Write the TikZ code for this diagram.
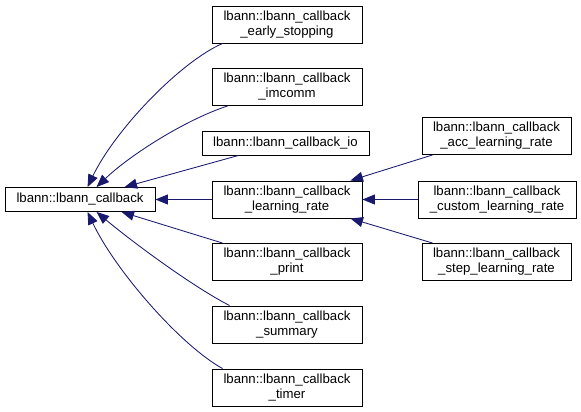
\documentclass[tikz,border=0pt]{standalone}
\usepackage{fontspec}
\setmainfont{Liberation Sans}
\usetikzlibrary{arrows.meta}
\definecolor{edgeblue}{HTML}{191970}
\begin{document}
\begin{tikzpicture}[x=1pt,y=-1pt,
  cls/.style={draw=black,line width=0.9pt,fill=white,inner sep=0pt,align=center,
    font=\fontsize{13.2}{15}\selectfont,minimum width=150pt,minimum height=37pt},
  onel/.style={minimum height=24pt},
  inh/.style={draw=edgeblue,line width=0.85pt,-{Triangle[length=12.5pt,width=10pt,fill=edgeblue]}}]
\useasboundingbox (0,0) rectangle (581,412);
\node[cls,onel] (base) at (80,199.5) {lbann::lbann\_callback};
\node[cls] (early) at (287,24.5) {lbann::lbann\_callback\\\_early\_stopping};
\node[cls] (imcomm) at (287,87) {lbann::lbann\_callback\\\_imcomm};
\node[cls,onel,minimum width=167pt] (io) at (285.5,143) {lbann::lbann\_callback\_io};
\node[cls] (lr) at (287,199.5) {lbann::lbann\_callback\\\_learning\_rate};
\node[cls] (print) at (287,262) {lbann::lbann\_callback\\\_print};
\node[cls] (summary) at (287,324.5) {lbann::lbann\_callback\\\_summary};
\node[cls] (timer) at (287,387.5) {lbann::lbann\_callback\\\_timer};
\node[cls,minimum width=149pt] (acc) at (496.5,136) {lbann::lbann\_callback\\\_acc\_learning\_rate};
\node[cls,minimum width=158pt] (custom) at (497,199.5) {lbann::lbann\_callback\\\_custom\_learning\_rate};
\node[cls,minimum width=149pt] (step) at (496.5,262) {lbann::lbann\_callback\\\_step\_learning\_rate};
% edges to base
\draw[inh] ([xshift=11pt]early.south west) .. controls (180,62) and (115,130) .. ([xshift=83pt]base.north west);
\draw[inh] ([xshift=16pt]imcomm.south west) .. controls (185,120) and (130,155) .. ([xshift=92pt]base.north west);
\draw[inh] ([xshift=37pt]io.south west) -- ([xshift=120pt]base.north west);
\draw[inh] (lr.west) -- (base.east);
\draw[inh] ([xshift=11pt]print.north west) -- ([xshift=117pt]base.south west);
\draw[inh] ([xshift=18pt]summary.north west) .. controls (190,285) and (130,240) .. ([xshift=92pt]base.south west);
\draw[inh] ([xshift=11pt]timer.north west) .. controls (180,345) and (115,270) .. ([xshift=83pt]base.south west);
% edges to learning rate
\draw[inh] ([xshift=11pt]acc.south west) -- ([xshift=-12pt]lr.north east);
\draw[inh] (custom.west) -- (lr.east);
\draw[inh] ([xshift=11pt]step.north west) -- ([xshift=-12pt]lr.south east);
\end{tikzpicture}
\end{document}
